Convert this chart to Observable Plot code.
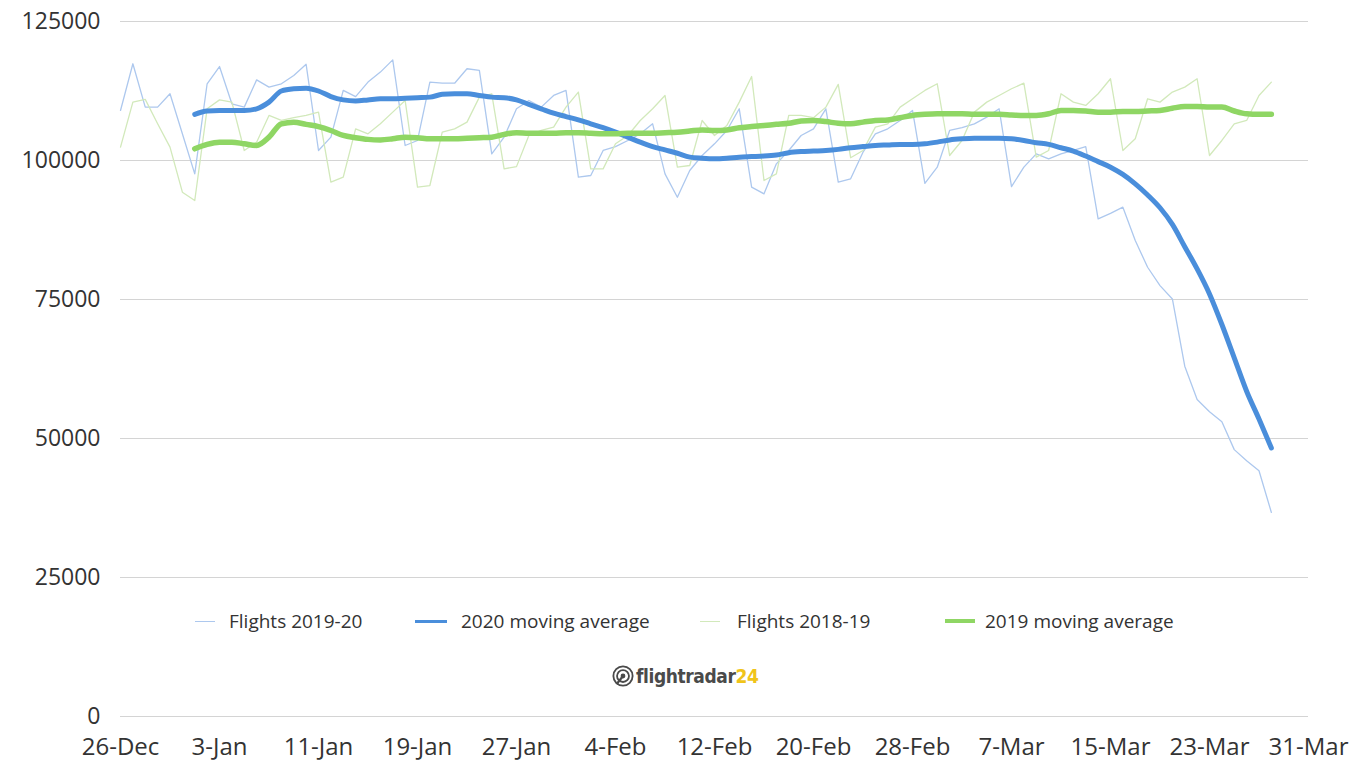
<!DOCTYPE html>
<html><head><meta charset="utf-8">
<script src="https://cdn.jsdelivr.net/npm/d3@7"></script>
<script src="https://cdn.jsdelivr.net/npm/@observablehq/plot@0.6"></script>
<style>
body{margin:0;background:#fff;font-family:"Open Sans",sans-serif;}
#wrap{position:relative;width:1359px;height:770px;overflow:hidden}
.item{position:absolute;top:609px;height:24px;display:flex;align-items:center;white-space:nowrap;font-size:19px;color:#333}
.sw{display:inline-block;height:0;margin-right:14px}
#logo{position:absolute;top:665px;left:612px;display:flex;align-items:center;font-family:"DejaVu Sans Condensed","DejaVu Sans",sans-serif;font-stretch:condensed;font-size:19px;font-weight:bold;color:#4a4a4a;letter-spacing:-0.4px}
#logo .y{color:#f0c419}
</style></head><body><div id="wrap"></div>
<script>
// Daily flights tracked, one value per day starting 26-Dec
const startDate = "2019-12-26";
const flights2020 = [109000,117400,109600,109600,112000,104800,97600,113800,116900,110200,
  109600,114500,113200,113800,115300,117300,101800,104200,112600,111500,
  114100,115900,118100,102700,103600,114100,113900,113900,116500,116200,
  101200,104200,109300,110800,109600,111700,112600,97000,97300,101800,
  102500,103600,104800,106600,97600,93400,98200,100900,103000,105400,
  109300,95200,94000,99400,101800,104500,105700,109300,96100,96700,
  101500,104800,105700,107200,109000,95900,98800,105400,105900,106600,
  107800,109300,95300,98800,101200,100300,101200,101800,102500,89500,
  90500,91600,85600,80800,77500,75100,63000,57000,54800,53000,
  48000,46000,44200,36700];
const flights2019 = [102400,110500,111000,106600,102400,94300,92800,109300,110900,110500,
  101800,103300,108100,107200,107700,108100,108700,96100,97000,105700,
  104800,106600,108700,110800,95200,95500,105100,105700,106900,111400,
  112000,98500,98900,104500,105400,106000,109600,112300,98500,98500,
  103000,104500,107200,109300,111700,98800,99100,107200,104500,106300,
  110500,115100,96400,97600,108100,108100,107700,109600,113700,100500,
  101800,106000,106600,109600,111100,112600,113800,100900,103600,108700,
  110500,111700,112900,113900,100600,101800,112000,110500,109900,112000,
  114700,101800,103900,111100,110500,112300,113200,114700,100900,103600,
  106600,107200,111700,114100];
// moving averages start on 1-Jan (7th day)
const maOffset = 6;
const ma2020 = [108300,108900,109000,109000,109000,109300,110500,112500,112900,113000,
  112500,111500,110900,110700,110900,111100,111100,111200,111300,111400,
  111900,112000,112000,111700,111400,111300,110900,110100,109300,108500,
  107900,107300,106600,105900,105100,104200,103300,102500,101900,101300,
  100600,100400,100300,100400,100600,100700,100800,101000,101400,101600,
  101700,101800,102000,102300,102500,102700,102800,102900,102900,103000,
  103300,103700,103900,104000,104000,104000,103900,103600,103200,102900,
  102300,101700,100800,99800,98800,97500,95800,93800,91500,88500,
  84500,80500,76000,70500,64500,58500,53500,48300];
const ma2019 = [102100,102900,103300,103300,103000,102700,104200,106600,106900,106500,
  106100,105400,104500,104100,103800,103700,103900,104200,104100,103900,
  103900,103900,104000,104100,104200,104700,105000,104900,104900,104900,
  105000,105000,104900,104800,104800,104900,104900,104900,105000,105100,
  105300,105500,105400,105500,105900,106100,106300,106500,106700,107100,
  107200,107000,106700,106600,106900,107200,107300,107700,108100,108300,
  108400,108400,108400,108300,108300,108300,108200,108100,108100,108400,
  109000,109000,108900,108700,108700,108800,108800,108900,109000,109400,
  109700,109700,109600,109600,108900,108400,108300,108300];
const tickLabels = ["26-Dec","3-Jan","11-Jan","19-Jan","27-Jan","4-Feb","12-Feb","20-Feb","28-Feb","7-Mar","15-Mar","23-Mar","31-Mar"];
const yTicks = [0,25000,50000,75000,100000,125000];
const seriesNames = ["Flights 2019-20","2020 moving average","Flights 2018-19","2019 moving average"];
const colors = ["#adc8ee","#4a8edb","#d2e9bb","#8fd664"];

const start = new Date(startDate + "T00:00:00Z");
const day = i => d3.utcDay.offset(start, i);
const tickDates = tickLabels.map(s => d3.utcParse("%d-%b-%Y")(s + (s.endsWith("Dec") ? "-2019" : "-2020")));
const fmt = d3.utcFormat("%-d-%b");

const rows = (vals, off, name) => vals.map((v, i) => ({date: day(i + off), value: v, series: name}));
const b = rows(flights2020, 0, seriesNames[0]);
const mb = rows(ma2020, maOffset, seriesNames[1]);
const g = rows(flights2019, 0, seriesNames[2]);
const mg = rows(ma2019, maOffset, seriesNames[3]);

const chart = Plot.plot({
  width: 1359, height: 770,
  marginLeft: 120, marginRight: 51, marginTop: 21, marginBottom: 54,
  style: {fontFamily: "'Open Sans', sans-serif", color: "#333", background: "#fff"},
  x: {type: "utc", domain: [tickDates[0], tickDates[tickDates.length - 1]]},
  y: {domain: [0, 125000]},
  marks: [
    Plot.ruleY(yTicks, {stroke: "#d4d4d4", strokeWidth: 1.2}),
    Plot.axisY({ticks: yTicks, tickSize: 0, tickPadding: 20, fontSize: 23, label: null, tickFormat: d => String(d)}),
    Plot.axisX({ticks: tickDates, tickSize: 0, tickPadding: 21, fontSize: 24, label: null, tickFormat: fmt}),
    Plot.line(b, {x: "date", y: "value", stroke: colors[0], strokeWidth: 1.3}),
    Plot.line(g, {x: "date", y: "value", stroke: colors[2], strokeWidth: 1.3}),
    Plot.line(mb, {x: "date", y: "value", stroke: colors[1], strokeWidth: 5, curve: "monotone-x"}),
    Plot.line(mg, {x: "date", y: "value", stroke: colors[3], strokeWidth: 5.5, curve: "monotone-x"})
  ]
});
const wrap = document.getElementById("wrap");
wrap.appendChild(chart);

// legend inside the plot area
const legendPos = [[195, 20, 229], [415, 32, 461], [700, 20, 737], [945, 30, 985]];
const widths = [1.3, 3, 1.3, 4];
seriesNames.forEach((name, i) => {
  const it = document.createElement("div");
  it.className = "item";
  it.style.left = legendPos[i][0] + "px";
  const sw = document.createElement("span");
  sw.className = "sw";
  sw.style.width = legendPos[i][1] + "px";
  sw.style.borderTop = widths[i] + "px solid " + colors[i];
  sw.style.marginRight = (legendPos[i][2] - legendPos[i][0] - legendPos[i][1]) + "px";
  it.appendChild(sw);
  it.appendChild(document.createTextNode(name));
  wrap.appendChild(it);
});

// flightradar24 logo
const logo = document.createElement("div");
logo.id = "logo";
logo.innerHTML = '<svg width="22" height="22" viewBox="0 0 24 24" style="margin-right:2px"><circle cx="12" cy="12" r="10.5" fill="none" stroke="#4a4a4a" stroke-width="2"/><circle cx="12" cy="12" r="6.5" fill="none" stroke="#4a4a4a" stroke-width="2"/><circle cx="12" cy="12" r="2.6" fill="#4a4a4a"/><path d="M12 12 L5 21" stroke="#4a4a4a" stroke-width="2.4"/></svg><span>flightradar</span><span class="y">24</span>';
wrap.appendChild(logo);
</script>
</body></html>
